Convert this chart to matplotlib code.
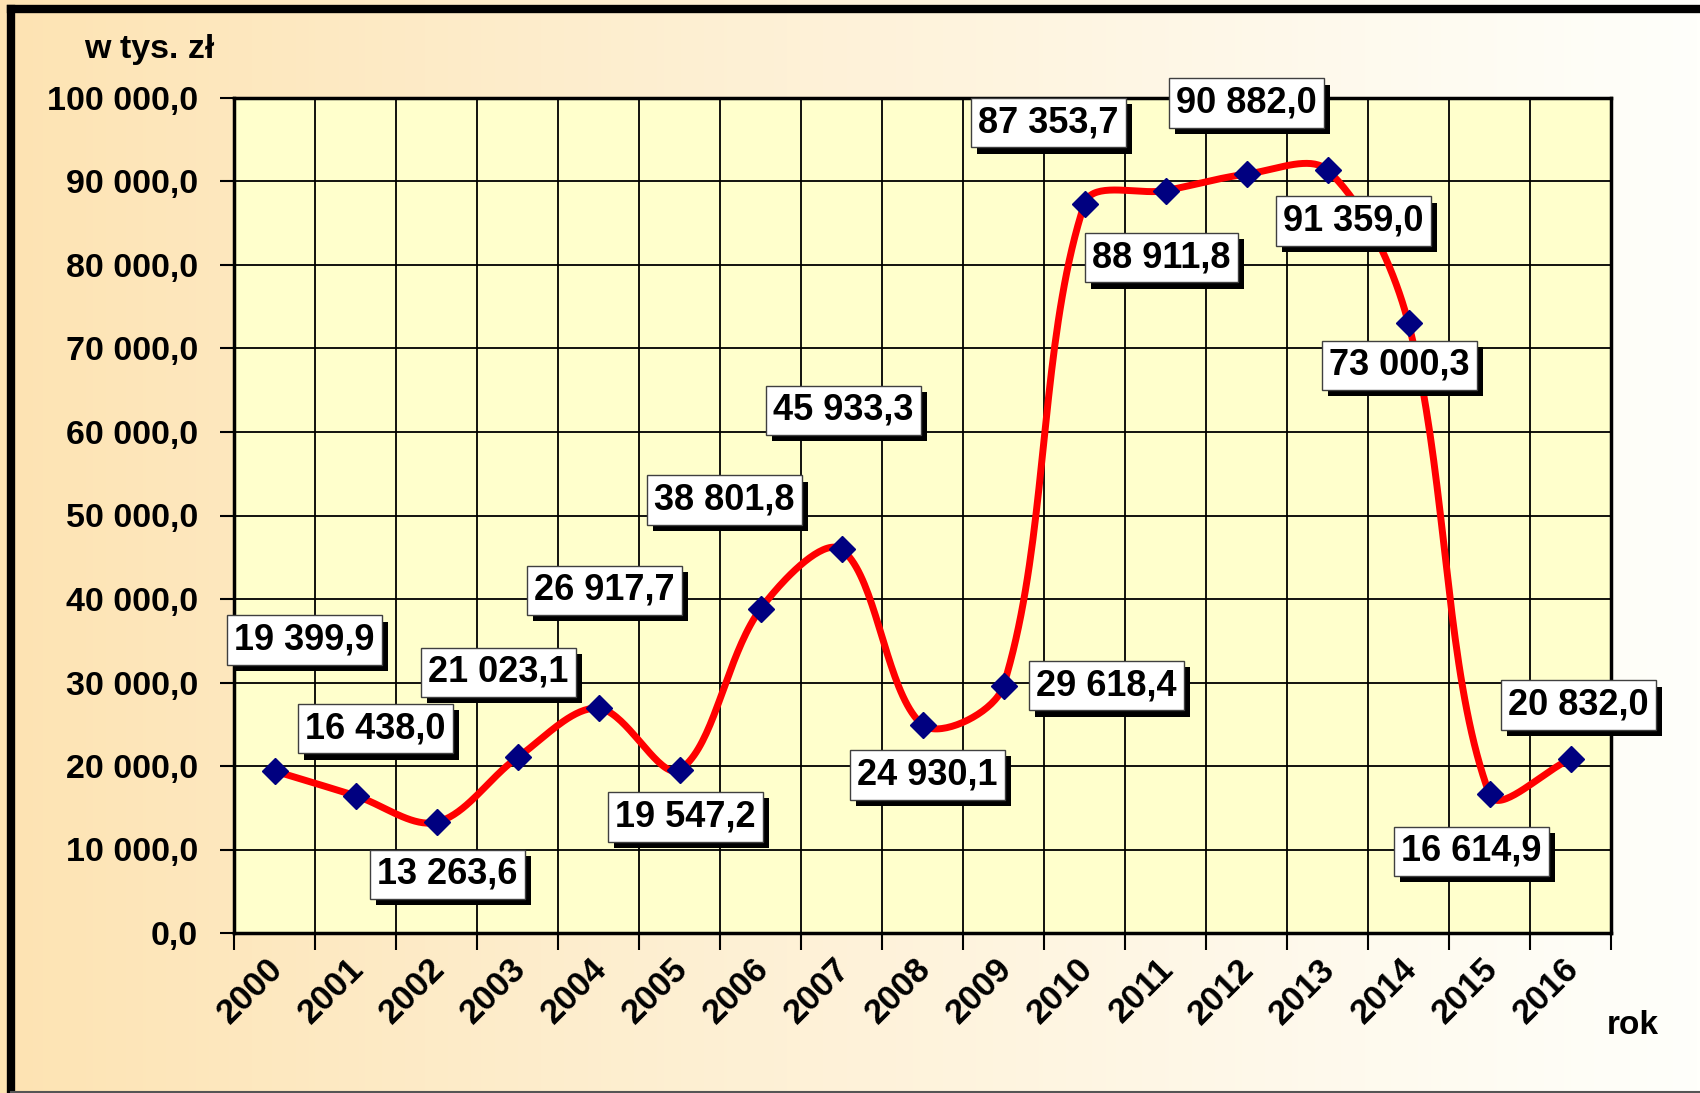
import numpy as np
import matplotlib.pyplot as plt
from matplotlib import patheffects
from matplotlib.lines import Line2D
from matplotlib.transforms import ScaledTranslation

plt.rcParams['font.family'] = ['Liberation Sans', 'DejaVu Sans']
plt.rcParams['font.weight'] = 'bold'

# dane
years = ['2000', '2001', '2002', '2003', '2004', '2005', '2006', '2007', '2008',
         '2009', '2010', '2011', '2012', '2013', '2014', '2015', '2016']
values = [19399.9, 16438.0, 13263.6, 21023.1, 26917.7, 19547.2, 38801.8, 45933.3,
          24930.1, 29618.4, 87353.7, 88911.8, 90882.0, 91359.0, 73000.3, 16614.9, 20832.0]
# przesuniecie etykiet wzgledem punktu (piksele, w prawo / w gore)
label_offsets = [(30, 131), (20, 67), (11, -52), (-19, 85), (6, 118), (6, -47),
                 (-36, 109), (2, 139), (5, -50), (103, 0), (-36, 81), (-4, -67),
                 (0, 71), (26, -51), (-9, -42), (-18, -57), (8, 54)]

# rozmiar obszaru wykresu w pikselach
AX_L, AX_R, AX_T, AX_B = 234, 1611, 98, 933
YMAX = 100000


def fmt(v):
    return f"{v:,.1f}".replace(",", " ").replace(".", ",")


def smooth(x, y, steps=40):
    # wygladzona linia w stylu Excela, liczona w pikselach ekranu
    sx = (AX_R - AX_L) / len(x)
    sy = (AX_B - AX_T) / YMAX
    P = np.column_stack([np.asarray(x) * sx, np.asarray(y) * sy])
    P = np.vstack([P[0], P, P[-1]])
    t = np.linspace(0, 1, steps)[:, None]
    out = []
    for i in range(1, len(P) - 2):
        p0, p1, p2, p3 = P[i - 1], P[i], P[i + 1], P[i + 2]
        d01 = np.hypot(*(p1 - p0))
        d12 = np.hypot(*(p2 - p1))
        d23 = np.hypot(*(p3 - p2))
        b1 = p1 + (p2 - p0) * (d12 / (d01 + d12)) / 3
        b2 = p2 - (p3 - p1) * (d12 / (d12 + d23)) / 3
        seg = (1 - t) ** 3 * p1 + 3 * (1 - t) ** 2 * t * b1 + 3 * (1 - t) * t ** 2 * b2 + t ** 3 * p2
        out.append(seg)
    out = np.vstack(out)
    return out[:, 0] / sx, out[:, 1] / sy


fig = plt.figure(figsize=(17, 10.93), dpi=100)

# tlo z gradientem
bg = fig.add_axes([0, 0, 1, 1], zorder=-10)
grad = np.linspace(0, 1, 512) ** 0.9
c1 = np.array([253, 227, 178]) / 255
c2 = np.array([255, 255, 251]) / 255
img = c1[None, :] * (1 - grad[:, None]) + c2[None, :] * grad[:, None]
bg.imshow(img[None, :, :], aspect='auto', extent=[0, 1, 0, 1])
bg.set_xlim(0, 1)
bg.set_ylim(0, 1)
bg.axis('off')
# ramka
bg.add_line(Line2D([11 / 1700, 11 / 1700], [0, 1 - 9 / 1093], color='black', lw=6, solid_capstyle='projecting'))
bg.add_line(Line2D([11 / 1700, 1], [1 - 9 / 1093, 1 - 9 / 1093], color='black', lw=6, solid_capstyle='projecting'))
bg.add_line(Line2D([11 / 1700, 1], [1.5 / 1093, 1.5 / 1093], color='#555555', lw=1.5))

ax = fig.add_axes([AX_L / 1700, 1 - AX_B / 1093, (AX_R - AX_L) / 1700, (AX_B - AX_T) / 1093])
ax.set_facecolor('#FFFFCC')

n = len(years)
x = np.arange(n) + 0.5
lx, ly = smooth(x, values)
ax.plot(lx, ly, color='#FF0000', lw=5, zorder=3, solid_capstyle='round')
ax.plot(x, values, linestyle='none', marker='D', ms=13.5, color='#000080', zorder=4)

ax.set_xlim(0, n)
ax.set_ylim(0, YMAX)
ax.set_xticks(np.arange(n + 1))
ax.set_xticklabels([])
ax.set_xticks(x, minor=True)
ax.set_xticklabels(years, minor=True)
ax.tick_params(axis='x', which='major', length=12, width=1.5, direction='out')
ax.tick_params(axis='x', which='minor', length=0, pad=14, labelsize=25)
shift = ScaledTranslation(-9 / 100, 0, fig.dpi_scale_trans)
for lbl in ax.get_xticklabels(minor=True):
    lbl.set_rotation(45)
    lbl.set_ha('right')
    lbl.set_va('top')
    lbl.set_rotation_mode('anchor')
    lbl.set_fontweight('bold')
    lbl.set_transform(lbl.get_transform() + shift)

yt = np.arange(0, YMAX + 1, 10000)
ax.set_yticks(yt)
ax.set_yticklabels([fmt(v) for v in yt], fontweight='bold')
ax.tick_params(axis='y', length=10, width=1.5, pad=16, labelsize=24.5)

ax.grid(True, color='black', lw=1.3)
ax.set_axisbelow(True)
for s in ax.spines.values():
    s.set_linewidth(2.5)

# etykiety danych
for xi, v, off in zip(x, values, label_offsets):
    a = ax.annotate(fmt(v), (xi, v), xytext=off, textcoords='offset pixels',
                    ha='center', va='center', fontsize=26, fontweight='bold',
                    zorder=6, annotation_clip=False,
                    bbox=dict(boxstyle='square,pad=0.2', fc='white', ec='#404040', lw=1))
    a.get_bbox_patch().set_path_effects([
        patheffects.SimplePatchShadow(offset=(4.5, -4.5), shadow_rgbFace='black', alpha=1),
        patheffects.Normal()])

fig.text(214 / 1700, 1 - 58 / 1093, 'w tys. zł', ha='right', va='baseline',
         fontsize=24.5, fontweight='bold')
fig.text(1659 / 1700, 1 - 1034 / 1093, 'rok', ha='right', va='baseline',
         fontsize=24, fontweight='bold')

fig.savefig('out.png', dpi=100)
